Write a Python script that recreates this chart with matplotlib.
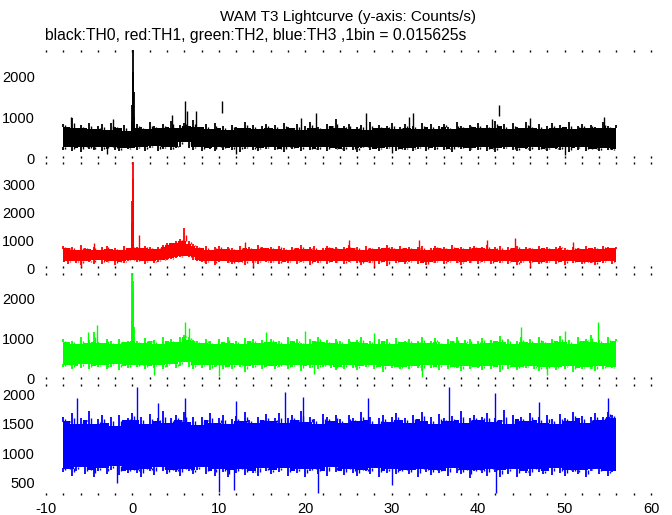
"""
WAM T3 lightcurve - four energy channels (TH0..TH3), 1 bin = 0.015625 s.
Band edges are read off the reference at 0.5 s steps; spikes / burst bins listed separately.
"""

import numpy as np
import matplotlib
matplotlib.use("Agg")
import matplotlib.pyplot as plt
from matplotlib.ticker import MultipleLocator

plt.rcParams["font.family"] = ["Liberation Sans", "DejaVu Sans"]
plt.rcParams["axes.unicode_minus"] = False

# ── Data ────────────────────────────────────────────────────────────────────────
# time grid (s), -8 .. 56 in 0.5 s steps (129 points)
t_grid = np.arange(-8.0, 56.01, 0.5)

# TH0 (black)
th0_hi = [830, 760, 980, 720, 800, 740, 860, 700, 780, 820, 690, 850, 760, 730, 800, 660,
          720, 840, 760, 700, 880, 790, 720, 830, 760, 900, 740, 810, 860, 780, 920, 750,
          760, 820, 700, 850, 740, 780, 690, 810, 760, 720, 870, 740, 800, 700, 780, 830,
          740, 800, 700, 860, 760, 720, 820, 690, 790, 880, 740, 760, 710, 830, 770, 950,
          720, 780, 840, 700, 760, 810, 690, 870, 740, 800, 720, 780, 860, 700, 760, 820,
          740, 790, 700, 860, 750, 820, 710, 780, 840, 760, 700, 880, 790, 730, 810, 760,
          860, 720, 800, 740, 900, 780, 830, 700, 860, 760, 720, 880, 790, 740, 820, 700,
          780, 850, 720, 800, 760, 870, 700, 790, 830, 740, 810, 760, 720, 880, 790, 740,
          800]
th0_lo = [200, 260, 180, 240, 150, 280, 220, 190, 260, 170, 230, 280, 200, 160, 250, 210,
          250, 200, 270, 180, 240, 290, 160, 230, 260, 190, 250, 280, 380, 240, 200, 270,
          180, 250, 220, 160, 280, 200, 240, 190, 270, 150, 230, 260, 200, 170, 250, 220,
          260, 190, 230, 150, 280, 210, 240, 170, 260, 200, 230, 190, 270, 160, 240, 210,
          230, 180, 260, 200, 150, 240, 280, 190, 220, 170, 250, 210, 270, 160, 230, 200,
          250, 180, 220, 270, 160, 240, 200, 260, 190, 230, 150, 280, 210, 240, 170, 250,
          200, 260, 180, 230, 140, 250, 210, 270, 190, 160, 240, 220, 180, 260, 200, 230,
          170, 250, 210, 190, 260, 150, 240, 200, 270, 180, 230, 210, 160, 250, 200, 190,
          220]
th0_spike_t = [-7.1, -2.2, 4.6, 6.1, 6.3, 7.4, 19.5, 21.2, 27.0, 32.0, 32.5, 41.6, 46.0, 54.6]
th0_spike_v = [990, 950, 1040, 1400, 1150, 1150, 980, 1100, 1100, 1010, 1100, 960, 970, 1010]
th0_dip_t = [-3.0, 12.0, 30.0, 50.0]
th0_dip_v = [90, 100, 110, 80]
th0_float_t = [10.4, 42.4]
th0_float_lo = [1100, 1030]
th0_float_hi = [1400, 1290]
th0_burst_t = [-0.05, 0.0, 0.05, 0.1, 0.15, 0.2]
th0_burst_v = [900, 1300, 2640, 2100, 1600, 1000]

# TH1 (red)
th1_hi = [780, 700, 760, 650, 820, 720, 680, 770, 640, 750, 800, 690, 730, 660, 790, 710,
          820, 760, 700, 780, 740, 680, 760, 820, 880, 900, 960, 1050, 1420, 980, 860, 800,
          720, 780, 660, 740, 800, 690, 760, 720, 650, 790, 710, 760, 680, 820, 740, 700,
          760, 690, 800, 720, 650, 770, 710, 840, 690, 740, 780, 660, 730, 790, 700, 760,
          680, 750, 820, 700, 760, 640, 790, 720, 680, 760, 700, 810, 740, 670, 780, 720,
          760, 690, 740, 800, 660, 730, 780, 700, 750, 680, 820, 720, 760, 690, 740, 780,
          700, 760, 830, 690, 740, 780, 660, 750, 720, 800, 690, 760, 730, 680, 790, 720,
          760, 690, 740, 800, 710, 660, 770, 730, 690, 780, 720, 750, 680, 800, 740, 700,
          760]
th1_lo = [220, 150, 260, 180, 120, 240, 200, 160, 270, 140, 210, 250, 90, 230, 170, 250,
          300, 200, 240, 160, 260, 190, 230, 270, 300, 320, 360, 400, 420, 380, 300, 250,
          200, 160, 240, 120, 210, 260, 180, 150, 230, 200, 100, 250, 190, 160, 240, 210,
          170, 240, 130, 220, 190, 260, 150, 200, 240, 110, 210, 180, 250, 160, 220, 190,
          240, 150, 200, 260, 170, 120, 230, 190, 250, 160, 210, 80, 240, 180, 200, 150,
          210, 250, 160, 190, 90, 230, 180, 240, 150, 200, 260, 170, 120, 220, 190, 240,
          160, 210, 250, 130, 200, 180, 240, 160, 220, 100, 190, 250, 170, 210, 140, 230,
          190, 250, 160, 210, 120, 240, 180, 200, 150, 230, 170, 90, 220, 190, 240, 160,
          200]
th1_spike_t = [0.7, -4.5, 13.0, 25.0, 33.2, 41.0, 44.3, 51.0]
th1_spike_v = [1180, 900, 950, 1000, 1000, 1000, 1090, 950]
th1_dip_t = [-6.0, 14.0, 28.0, 46.0]
th1_dip_v = [30, 40, 30, 50]
th1_burst_t = [-0.05, 0.0, 0.03, 0.06, 0.09, 0.12]
th1_burst_v = [1600, 2400, 3800, 3200, 2300, 1200]

# TH2 (green)
th2_hi = [1000, 920, 960, 880, 1040, 900, 970, 1180, 930, 890, 1010, 950, 870, 990, 920, 960,
          1000, 950, 900, 1020, 940, 980, 880, 1040, 960, 1000, 920, 1060, 1100, 1050, 980, 940,
          900, 1010, 950, 870, 990, 930, 1050, 910, 960, 880, 1020, 940, 1000, 890, 970, 930,
          1010, 920, 960, 880, 1040, 950, 990, 910, 870, 1000, 940, 1060, 920, 970, 890, 1010,
          950, 880, 1000, 920, 970, 1040, 900, 960, 880, 1010, 940, 990, 870, 1030, 920, 960,
          1000, 910, 960, 1060, 890, 950, 1020, 930, 880, 990, 940, 1050, 910, 970, 1000, 880,
          960, 1030, 900, 980, 940, 1070, 920, 1000, 880, 960, 1040, 930, 990, 910, 1060, 950,
          900, 1000, 960, 1080, 920, 980, 870, 1040, 950, 1010, 1100, 930, 980, 900, 1050, 960,
          1000]
th2_lo = [300, 360, 250, 320, 280, 380, 240, 330, 290, 350, 260, 310, 370, 230, 320, 280,
          340, 290, 360, 250, 320, 280, 350, 240, 310, 370, 270, 330, 420, 300, 260, 340,
          280, 350, 220, 310, 360, 260, 300, 240, 340, 290, 180, 320, 270, 350, 250, 310,
          330, 260, 300, 360, 240, 290, 350, 210, 320, 280, 340, 250, 300, 360, 270, 230,
          310, 260, 340, 280, 220, 320, 290, 350, 250, 300, 180, 330, 270, 310, 240, 290,
          260, 320, 280, 200, 340, 270, 300, 230, 350, 260, 310, 280, 190, 330, 250, 300,
          280, 230, 320, 260, 300, 170, 340, 250, 290, 220, 310, 270, 330, 240, 200, 300,
          260, 310, 220, 290, 250, 330, 180, 280, 240, 300, 260, 200, 320, 250, 290, 270,
          300]
th2_spike_t = [-5.2, -4.1, 6.06, 6.5, 15.5, 20.0, 28.0, 44.9, 50.0, 53.9]
th2_spike_v = [1180, 1350, 1430, 1270, 1180, 1200, 1150, 1310, 1200, 1420]
th2_dip_t = [2.5, 10.0, 21.0, 33.5, 48.0]
th2_dip_v = [100, 80, 120, 60, 90]
th2_burst_t = [-0.05, 0.0, 0.04, 0.08, 0.12, 0.16]
th2_burst_v = [1450, 2650, 2200, 2450, 1900, 1300]

# TH3 (blue)
th3_hi = [1620, 1540, 1680, 1500, 1600, 1560, 1720, 1490, 1580, 1650, 1520, 1610, 1470, 1640, 1560, 1600,
          1680, 1570, 1620, 1500, 1660, 1540, 1600, 1720, 1510, 1590, 1640, 1560, 1700, 1530, 1610, 1480,
          1620, 1560, 1690, 1520, 1600, 1650, 1490, 1580, 1630, 1540, 1700, 1570, 1510, 1620, 1560, 1660,
          1540, 1600, 1680, 1510, 1590, 1640, 1560, 1720, 1530, 1620, 1580, 1500, 1660, 1610, 1550, 1640,
          1580, 1520, 1650, 1600, 1540, 1700, 1560, 1620, 1490, 1590, 1640, 1530, 1610, 1680, 1560, 1600,
          1520, 1640, 1580, 1700, 1550, 1610, 1500, 1660, 1590, 1540, 1630, 1570, 1720, 1520, 1600, 1650,
          1560, 1620, 1680, 1530, 1600, 1560, 1740, 1500, 1640, 1580, 1620, 1540, 1690, 1570, 1610, 1520,
          1640, 1580, 1500, 1660, 1600, 1550, 1700, 1590, 1630, 1520, 1610, 1680, 1560, 1620, 1700, 1650,
          1600]
th3_lo = [680, 740, 620, 700, 760, 650, 720, 600, 690, 750, 640, 710, 780, 630, 700, 670,
          720, 660, 600, 740, 690, 630, 760, 700, 650, 720, 680, 610, 740, 690, 640, 710,
          760, 650, 700, 620, 730, 680, 590, 720, 660, 740, 630, 700, 670, 610, 750, 690,
          640, 710, 680, 750, 620, 700, 660, 730, 590, 690, 740, 650, 700, 620, 760, 680,
          700, 630, 740, 670, 610, 720, 690, 650, 750, 600, 700, 660, 730, 640, 690, 720,
          650, 710, 600, 740, 680, 630, 720, 660, 700, 610, 750, 670, 640, 720, 580, 690,
          720, 660, 620, 740, 680, 600, 710, 650, 730, 590, 700, 660, 620, 740, 680, 640,
          700, 630, 750, 660, 610, 720, 680, 640, 710, 600, 690, 730, 650, 700, 620, 680,
          700]
th3_spike_t = [-6.4, 0.5, 3.0, 6.1, 12.0, 17.6, 19.7, 27.2, 36.6, 41.9, 47.0, 55.0]
th3_spike_v = [1930, 2130, 1850, 1930, 1880, 2045, 1960, 1930, 2130, 2016, 1870, 1930]
th3_dip_t = [-1.8, 10.0, 11.7, 21.5, 30.0, 42.1]
th3_dip_v = [490, 340, 380, 320, 460, 320]

panels = [
    dict(hi=th0_hi, lo=th0_lo, st=th0_spike_t, sv=th0_spike_v, dt=th0_dip_t, dv=th0_dip_v,
         bt=th0_burst_t, bv=th0_burst_v, color="black", ylim=(0, 2635), yt=[0, 1000, 2000]),
    dict(hi=th1_hi, lo=th1_lo, st=th1_spike_t, sv=th1_spike_v, dt=th1_dip_t, dv=th1_dip_v,
         bt=th1_burst_t, bv=th1_burst_v, color="#ff0000", ylim=(0, 3800), yt=[0, 1000, 2000, 3000]),
    dict(hi=th2_hi, lo=th2_lo, st=th2_spike_t, sv=th2_spike_v, dt=th2_dip_t, dv=th2_dip_v,
         bt=th2_burst_t, bv=th2_burst_v, color="#00ff00", ylim=(0, 2650), yt=[0, 1000, 2000]),
    dict(hi=th3_hi, lo=th3_lo, st=th3_spike_t, sv=th3_spike_v, dt=th3_dip_t, dv=th3_dip_v,
         bt=[], bv=[], color="#0000ff", ylim=(290, 2175), yt=[500, 1000, 1500, 2000]),
]

# axes boxes in figure fraction (left, bottom, width, height)
boxes = [(0.0685, 0.6932, 0.9003, 0.2097),
         (0.0685, 0.4796, 0.9003, 0.2058),
         (0.0685, 0.2641, 0.9003, 0.2058),
         (0.0685, 0.0388, 0.9003, 0.2156)]


def core_edges(hi, lo):
    """Solid part of the band: lowest top / highest bottom among neighbouring cells."""
    hi = np.asarray(hi, float)
    lo = np.asarray(lo, float)
    hp = np.pad(hi, 1, mode="edge")
    lp = np.pad(lo, 1, mode="edge")
    core_hi = np.minimum(np.minimum(hp[:-2], hp[1:-1]), hp[2:])
    core_lo = np.maximum(np.maximum(lp[:-2], lp[1:-1]), lp[2:])
    return hi, lo, core_hi, core_lo


# ── Plot ────────────────────────────────────────────────────────────────────────
fig = plt.figure(figsize=(6.72, 5.15), dpi=100)

for k, (p, box) in enumerate(zip(panels, boxes)):
    ax = fig.add_axes(box)
    col = p["color"]
    hi, lo, core_hi, core_lo = core_edges(p["hi"], p["lo"])
    mid = 0.5 * (hi.mean() + lo.mean())

    # solid core + thin spikes to each cell's extremes
    ax.fill_between(t_grid, core_lo, core_hi, step="mid", color=col, lw=0)
    ax.vlines(t_grid, core_hi - 5, hi, color=col, lw=1.3)
    ax.vlines(t_grid, lo, core_lo + 5, color=col, lw=1.3)
    # half-height spikes between cells (not past the last bin)
    ax.vlines(t_grid[:-1] + 0.22, core_hi[:-1] - 5, 0.5 * (hi[:-1] + core_hi[:-1]), color=col, lw=1)
    ax.vlines(t_grid[:-1] + 0.22, 0.5 * (lo[:-1] + core_lo[:-1]), core_lo[:-1] + 5, color=col, lw=1)

    ax.vlines(p["st"], mid, p["sv"], color=col, lw=1)
    ax.vlines(p["dt"], p["dv"], mid, color=col, lw=1)
    if p["bt"]:
        ax.vlines(p["bt"], mid, p["bv"], color=col, lw=1.3)
    if k == 0:
        ax.vlines(th0_float_t, th0_float_lo, th0_float_hi, color=col, lw=1)

    ax.set_xlim(-10, 60)
    ax.set_ylim(*p["ylim"])
    ax.set_yticks(p["yt"])
    for s in ax.spines.values():
        s.set_visible(False)
    ax.xaxis.set_major_locator(MultipleLocator(10))
    ax.xaxis.set_minor_locator(MultipleLocator(2))
    ax.tick_params(axis="x", which="both", direction="in", top=True, bottom=True,
                   length=1.5, width=1, labelsize=10.5, labelbottom=(k == 3), pad=5)
    ax.tick_params(axis="y", length=0, labelsize=10.5, pad=8)
    ax.patch.set_visible(False)

fig.text(0.518, 0.967, "WAM T3 Lightcurve (y-axis: Counts/s)", ha="center", va="center",
         fontsize=11)
fig.text(0.067, 0.932, "black:TH0, red:TH1, green:TH2, blue:TH3 ,1bin = 0.015625s",
         ha="left", va="center", fontsize=11.3)

fig.savefig("out.png", dpi=100)
